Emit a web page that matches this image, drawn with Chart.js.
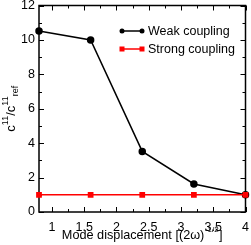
<!DOCTYPE html>
<html>
<head>
<meta charset="utf-8">
<script src="https://cdn.jsdelivr.net/npm/chart.js@4/dist/chart.umd.min.js"></script>
<style>
  html, body { margin: 0; padding: 0; background: #fff; }
  #wrap { width: 251px; height: 245px; }
</style>
</head>
<body>
<div id="wrap"><canvas id="myChart" width="251" height="245"></canvas></div>
<script>
// data
const displacement = [0.8, 1.6, 2.4, 3.2, 4.0];
const weakCoupling = [10.52, 10.0, 3.52, 1.63, 1.0];
const strongCoupling = [1.0, 1.0, 1.0, 1.0, 1.0];
const seriesNames = ['Weak coupling', 'Strong coupling'];

const xTickLabels = [1, 1.5, 2, 2.5, 3, 3.5, 4];
const xMinorTicks = [1.25, 1.75, 2.25, 2.75, 3.25, 3.75];
const yTickLabels = [0, 2, 4, 6, 8, 10, 12];
const yMinorTicks = [1, 3, 5, 7, 9, 11];

const FONT = '"Liberation Sans", Arial, Helvetica, sans-serif';

const toXY = (xs, ys) => xs.map((x, i) => ({ x: x, y: ys[i] }));

// frame + inward ticks on all four sides, titles and legend
const framePlugin = {
  id: 'frame',
  beforeDatasetsDraw(chart) {
    const { ctx, chartArea: a, scales } = chart;
    const xs = scales.x, ys = scales.y;
    ctx.save();
    ctx.strokeStyle = '#000';
    ctx.lineWidth = 1.5;
    ctx.strokeRect(a.left, a.top, a.right - a.left, a.bottom - a.top);
    ctx.lineWidth = 1;
    const tick = (x1, y1, x2, y2) => {
      ctx.beginPath(); ctx.moveTo(x1, y1); ctx.lineTo(x2, y2); ctx.stroke();
    };
    xTickLabels.forEach(v => {
      const px = Math.round(xs.getPixelForValue(v)) + 0.5;
      tick(px, a.bottom, px, a.bottom - 5);
      tick(px, a.top, px, a.top + 5);
    });
    xMinorTicks.forEach(v => {
      const px = Math.round(xs.getPixelForValue(v)) + 0.5;
      tick(px, a.bottom, px, a.bottom - 3);
      tick(px, a.top, px, a.top + 3);
    });
    yTickLabels.forEach(v => {
      const py = Math.round(ys.getPixelForValue(v)) + 0.5;
      tick(a.left, py, a.left + 5, py);
      tick(a.right, py, a.right - 5, py);
    });
    yMinorTicks.forEach(v => {
      const py = Math.round(ys.getPixelForValue(v)) + 0.5;
      tick(a.left, py, a.left + 3, py);
      tick(a.right, py, a.right - 3, py);
    });
    ctx.restore();
  },
  afterDraw(chart) {
    const { ctx, chartArea: a } = chart;
    ctx.save();
    ctx.fillStyle = '#000';
    ctx.textBaseline = 'alphabetic';

    // x title with superscript
    const main = 'Mode displacement [(2\u03c9)';
    const sup = '-1/2';
    const tail = ']';
    ctx.font = '12.7px ' + FONT;
    const wMain = ctx.measureText(main).width;
    const wTail = ctx.measureText(tail).width;
    ctx.font = '8px ' + FONT;
    const wSup = ctx.measureText(sup).width;
    const x0 = (a.left + a.right) / 2 - (wMain + wSup + wTail + 1) / 2;
    ctx.font = '12.7px ' + FONT;
    ctx.fillText(main, x0, 238.5);
    ctx.font = '8px ' + FONT;
    ctx.fillText(sup, x0 + wMain + 0.5, 231.5);
    ctx.font = '12.7px ' + FONT;
    ctx.fillText(tail, x0 + wMain + wSup + 1, 238.5);

    // y title: c^11 / c^11_ref, rotated
    const parts = [
      { t: 'c', size: 13, dy: 0 },
      { t: '11', size: 9, dy: -7 },
      { t: '/c', size: 13, dy: 0 },
      { t: '11', size: 9, dy: -7 },
      { t: 'ref', size: 9, dy: 3 }
    ];
    let total = 0;
    parts.forEach(p => {
      ctx.font = p.size + 'px ' + FONT;
      p.w = ctx.measureText(p.t).width;
      total += p.w;
    });
    ctx.translate(15, (a.top + a.bottom) / 2);
    ctx.rotate(-Math.PI / 2);
    let cx = -total / 2;
    parts.forEach(p => {
      ctx.font = p.size + 'px ' + FONT;
      ctx.fillText(p.t, cx, p.dy);
      cx += p.w;
    });
    ctx.restore();

    // legend
    const rows = [31, 49];
    chart.data.datasets.forEach((ds, i) => {
      const y = rows[i];
      ctx.save();
      ctx.strokeStyle = ds.borderColor;
      ctx.fillStyle = ds.pointBackgroundColor;
      ctx.lineWidth = ds.borderWidth;
      ctx.beginPath(); ctx.moveTo(122, y); ctx.lineTo(142, y); ctx.stroke();
      [122, 142].forEach(px => {
        if (ds.pointStyle === 'rect') {
          ctx.fillRect(px - 2.5, y - 2.5, 5, 5);
        } else {
          ctx.beginPath(); ctx.arc(px, y, 2.5, 0, Math.PI * 2); ctx.fill();
        }
      });
      ctx.fillStyle = '#000';
      ctx.font = '12.5px ' + FONT;
      ctx.textBaseline = 'middle';
      ctx.fillText(ds.label, 148, y + 0.5);
      ctx.restore();
    });
  }
};

const ctx = document.getElementById('myChart').getContext('2d');
const chart = new Chart(ctx, {
  type: 'line',
  data: {
    datasets: [{
      label: seriesNames[0],
      data: toXY(displacement, weakCoupling),
      borderColor: '#000000',
      backgroundColor: '#000000',
      pointBackgroundColor: '#000000',
      pointBorderColor: '#000000',
      pointStyle: 'circle',
      pointRadius: 3,
      borderWidth: 1.5,
      order: 1
    }, {
      label: seriesNames[1],
      data: toXY(displacement, strongCoupling),
      borderColor: '#ff0000',
      backgroundColor: '#ff0000',
      pointBackgroundColor: '#ff0000',
      pointBorderColor: '#ff0000',
      pointStyle: 'rect',
      pointRadius: 3,
      borderWidth: 1.5,
      order: 0
    }]
  },
  options: {
    responsive: false,
    animation: false,
    devicePixelRatio: 1,
    clip: false,
    layout: { padding: { top: 4.5, right: 2.5, left: 0, bottom: 0 } },
    plugins: { legend: { display: false }, tooltip: { enabled: false } },
    elements: { line: { tension: 0 } },
    scales: {
      x: {
        type: 'linear',
        min: 0.8,
        max: 4,
        grid: { display: false, drawTicks: false },
        border: { display: false },
        afterBuildTicks(s) { s.ticks = xTickLabels.map(v => ({ value: v })); },
        afterFit(s) { s.height = 33; s.paddingLeft = 0; s.paddingRight = 0; },
        ticks: {
          color: '#000',
          padding: 8,
          maxRotation: 0,
          autoSkip: false,
          font: { family: FONT, size: 12.5 },
          callback: v => String(v)
        }
      },
      y: {
        min: 0,
        max: 12,
        grid: { display: false, drawTicks: false },
        border: { display: false },
        afterBuildTicks(s) { s.ticks = yTickLabels.map(v => ({ value: v })); },
        afterFit(s) { s.width = 39; s.paddingTop = 0; s.paddingBottom = 0; },
        ticks: {
          color: '#000',
          padding: 4,
          font: { family: FONT, size: 12.5 },
          callback: v => String(v)
        }
      }
    }
  },
  plugins: [framePlugin]
});
</script>
</body>
</html>
